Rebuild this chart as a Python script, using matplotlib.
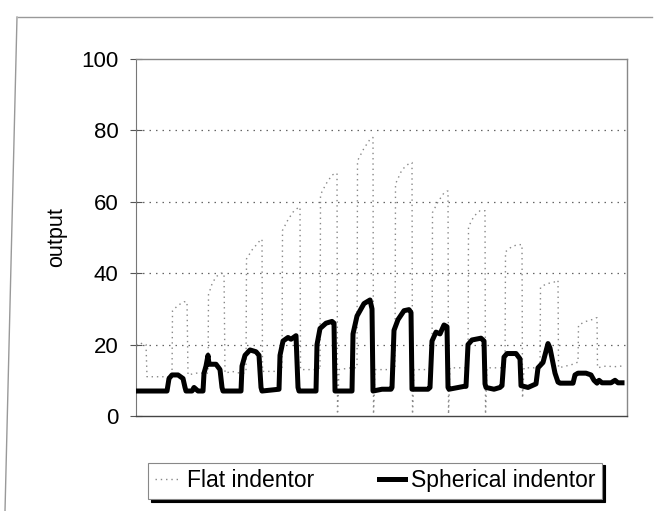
import numpy as np
import matplotlib
matplotlib.use("Agg")
import matplotlib.pyplot as plt
from matplotlib.lines import Line2D

plt.rcParams['font.family'] = ['Liberation Sans', 'DejaVu Sans']

# spherical indentor (thick black trace): (sample, output)
sph_points = [(0, 7), (31, 7), (33, 10.5), (36, 11.5), (42, 11.5), (47, 10.5), (49, 8), (50, 7),
              (56, 7), (58, 8), (60, 7.5), (62, 7), (67, 7), (68, 12), (70, 14), (72, 17), (73, 14.5),
              (75, 14.5), (80, 14.5), (84, 13), (86, 8), (87, 7), (105, 7), (106, 14), (109, 17),
              (114, 18.5), (120, 18), (123, 17), (125, 8), (126, 7), (143, 7.5), (144, 17), (147, 21),
              (152, 22), (155, 21.5), (160, 22.5), (162, 8), (163, 7), (180, 7), (181, 20), (184, 24.5),
              (190, 26), (196, 26.5), (198, 26), (199, 7), (216, 7), (217, 23), (221, 28), (228, 31.5),
              (234, 32.5), (236, 30), (237, 7), (246, 7.5), (255, 7.5), (256, 8), (258, 24), (262, 27),
              (268, 29.5), (273, 29.8), (275, 29), (276, 7.5), (292, 7.5), (294, 8), (296, 21),
              (300, 23.5), (304, 23), (308, 25.5), (311, 25), (312, 8), (313, 7.5), (328, 8.3),
              (330, 8.3), (332, 20), (336, 21.3), (345, 21.8), (348, 21), (349, 9), (350, 8),
              (358, 7.5), (364, 8), (366, 8.5), (368, 16.5), (371, 17.5), (380, 17.5), (384, 16),
              (385, 8.5), (392, 8), (400, 9), (402, 13.5), (407, 15), (412, 20.3), (414, 19), (419, 12),
              (422, 9.5), (424, 9.2), (437, 9.2), (439, 11.5), (442, 12), (450, 12), (455, 11.5),
              (458, 10), (461, 9.2), (463, 10), (466, 9.3), (469, 9.3), (475, 9.3), (479, 10),
              (482, 9.3), (486, 9.3)]

# flat indentor (thin dotted trace): (sample, output)
flat_points = [(0, 20), (4, 20.5), (8, 20), (10, 20), (11, 11), (30, 11), (35, 11), (36, 11.5),
               (36.5, 29.5), (42, 31), (48, 32), (51, 32), (52, 11.5), (60, 12), (66, 12), (71, 12),
               (72, 12), (72.5, 34), (76, 37), (80, 39), (85, 40), (88, 40), (89, 12), (96, 12.5),
               (104, 12), (109, 12), (110, 12.5), (110.5, 44), (116, 46.5), (122, 48.5), (125, 49.5),
               (126, 49.5), (126.5, 12.5), (140, 12.5), (145, 13), (146, 13), (146.5, 52), (152, 55),
               (158, 57.5), (163, 58.5), (164, 58.5), (164.5, 13), (178, 13), (183, 13.5), (184, 13),
               (184.5, 62), (190, 65), (196, 67.5), (200, 68), (201, 68), (201.5, 0.5), (203, 13),
               (215, 13.5), (220, 13.5), (221, 13.5), (221.5, 71.5), (228, 75), (234, 77.5),
               (236.5, 78), (237, 78), (237.5, 0.5), (239, 13), (252, 13), (258, 13.5), (259, 13.5),
               (259.5, 65), (266, 69), (272, 70.5), (275, 71), (276, 71), (276.5, 0.5), (278, 13),
               (290, 13), (295, 13.5), (296, 13.5), (296.5, 57), (302, 60), (308, 62.5), (311, 63),
               (312, 63), (312.5, 0.5), (314, 13.5), (327, 13.5), (331, 13.5), (332, 13.5),
               (332.5, 53), (338, 56), (344, 57.5), (348, 57.5), (349, 57.5), (349.5, 0.5), (351, 13.5),
               (364, 13.5), (368, 13.5), (369, 13.5), (369.5, 46), (376, 47.5), (382, 48), (385, 48),
               (386, 48), (386.5, 5), (388, 13.5), (398, 13.5), (403, 14), (404, 14), (404.5, 36),
               (410, 37), (418, 37.5), (421, 38), (422, 38), (422.5, 13.5), (430, 14), (437, 14.5),
               (441, 15), (442, 15), (442.5, 25.5), (450, 26.5), (456, 27), (460, 27.5), (461, 27.5),
               (461.5, 13.5), (470, 14), (478, 13.8), (486, 14)]

yticks = [0, 20, 40, 60, 80, 100]

sph = np.array(sph_points)
flat = np.array(flat_points)

fig = plt.figure(figsize=(6.58, 5.11), dpi=100)
ax = fig.add_axes([0.2067, 0.1859, 0.7462, 0.6986])

# horizontal dotted gridlines
for v in yticks[1:-1]:
    ax.axhline(v, color='#666666', lw=0.9, ls=(0, (1.2, 4)), zorder=1)

ax.plot(flat[:, 0], flat[:, 1], color='#888888', lw=1.0, ls=(0, (1, 2.8)), zorder=2,
        label='Flat indentor')
ax.plot(sph[:, 0], sph[:, 1], color='black', lw=3.6, solid_joinstyle='round', zorder=3,
        label='Spherical indentor')

ax.set_xlim(0, 491)
ax.set_ylim(0, 100)
ax.set_yticks(yticks)
ax.set_xticks([])
ax.tick_params(axis='y', direction='inout', length=9, width=0.8, color='#555555',
               labelsize=16, pad=8)
for s in ['top', 'right']:
    ax.spines[s].set_color('#888888')
    ax.spines[s].set_linewidth(1.0)
ax.spines['left'].set_color('#777777')
ax.spines['bottom'].set_color('#444444')
ax.spines['left'].set_linewidth(0.8)
ax.spines['bottom'].set_linewidth(1.0)
ax.set_ylabel('output', fontsize=15.5, labelpad=10)

leg = ax.legend(loc='center', bbox_to_anchor=(0.487, -0.182), ncol=2, fontsize=16.5,
                frameon=True, fancybox=False, edgecolor='#888888', handlelength=1.15,
                handletextpad=0.25, columnspacing=2.8, borderpad=0.3, borderaxespad=0,
                shadow={'color': 'black', 'alpha': 1.0, 'ox': 2, 'oy': -2})
leg.get_frame().set_linewidth(0.8)

# outer chart border (scanned page frame)
fig.add_artist(Line2D([18 / 658, 652 / 658], [1 - 17 / 511, 1 - 17 / 511],
                      transform=fig.transFigure, color='#999999', lw=1.0))
fig.add_artist(Line2D([17 / 658, 5 / 658], [1 - 17 / 511, 0],
                      transform=fig.transFigure, color='#999999', lw=1.0))

fig.savefig('out.png', dpi=100)
